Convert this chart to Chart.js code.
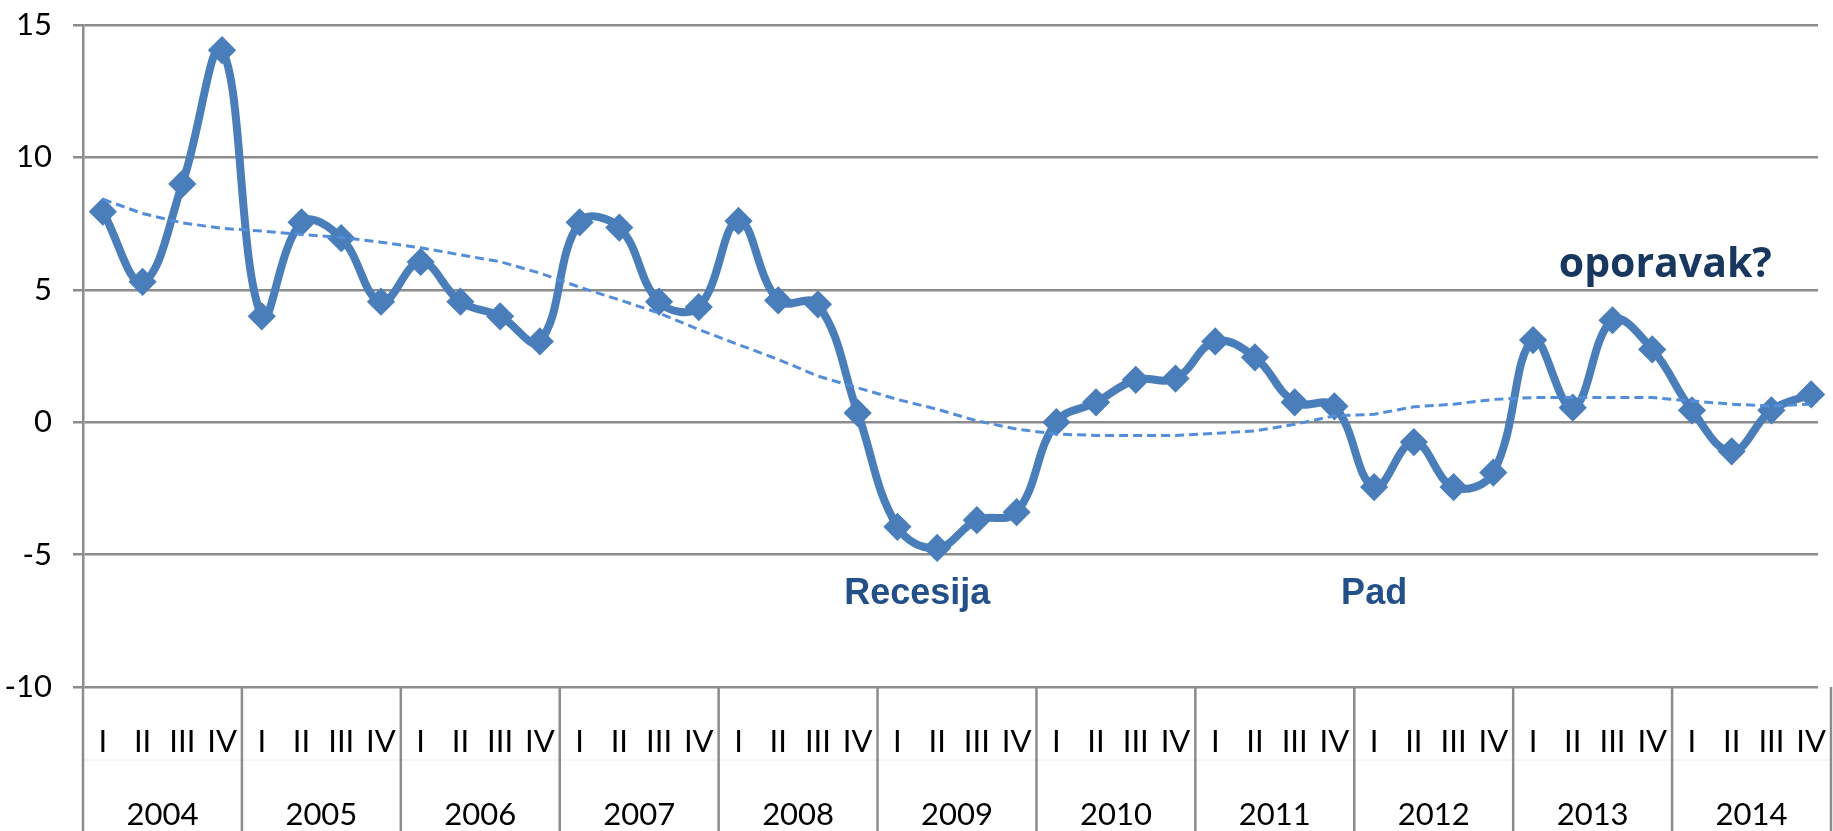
<!DOCTYPE html>
<html>
<head>
<meta charset="utf-8">
<script src="https://cdn.jsdelivr.net/npm/chart.js@4.4.1/dist/chart.umd.min.js"></script>
<style>
  html, body { margin: 0; padding: 0; background: #fff; }
  #wrap { width: 1833px; height: 831px; position: relative; }
</style>
</head>
<body>
<div id="wrap"><canvas id="gdpChart"></canvas></div>
<script>
// podaci
const years = ["2004", "2005", "2006", "2007", "2008", "2009", "2010", "2011", "2012", "2013", "2014"];
const quarters = ["I", "II", "III", "IV"];
const yTicks = [-10, -5, 0, 5, 10, 15];

const growth = [
  7.95, 5.3, 9.0, 14.05,
  4.0, 7.55, 6.95, 4.55,
  6.05, 4.55, 4.0, 3.05,
  7.55, 7.35, 4.55, 4.35,
  7.6, 4.6, 4.45, 0.35,
  -3.95, -4.75, -3.7, -3.4,
  0.0, 0.75, 1.6, 1.65,
  3.05, 2.45, 0.75, 0.6,
  -2.45, -0.75, -2.45, -1.9,
  3.1, 0.55, 3.85, 2.75,
  0.45, -1.1, 0.45, 1.05
];

const trend = [
  8.42, 7.88, 7.53, 7.32,
  7.22, 7.09, 6.98, 6.8,
  6.59, 6.32, 6.06, 5.63,
  5.1, 4.62, 4.12, 3.5,
  2.93, 2.37, 1.74, 1.3,
  0.86, 0.49, 0.05, -0.26,
  -0.45, -0.5, -0.5, -0.5,
  -0.42, -0.33, -0.08, 0.24,
  0.3, 0.58, 0.68, 0.86,
  0.93, 0.93, 0.93, 0.93,
  0.8, 0.68, 0.61, 0.68
];

const labels = [];
years.forEach(() => quarters.forEach(q => labels.push(q)));

const gridGray = "#8c8c8c";

// x skala neka ide do desnog ruba platna
const fitX = {
  id: "fitX",
  afterLayout(chart) {
    const xs = chart.scales.x;
    xs.right = chart.width - 2;
    xs.width = xs.right - xs.left;
    xs.configure();
  }
};

// godine ispod kvartala + okomite crte
const yearAxis = {
  id: "yearAxis",
  afterDraw(chart) {
    const ctx = chart.ctx;
    const xs = chart.scales.x;
    const step = xs.getPixelForValue(1) - xs.getPixelForValue(0);
    ctx.save();
    ctx.strokeStyle = "#ececec";
    ctx.lineWidth = 1;
    ctx.beginPath();
    ctx.moveTo(xs.left, 760);
    ctx.lineTo(xs.right, 760);
    ctx.stroke();
    ctx.strokeStyle = gridGray;
    ctx.lineWidth = 2.5;
    for (let k = 0; k <= years.length; k++) {
      const x = xs.getPixelForValue(k * 4) - step / 2;
      ctx.beginPath();
      ctx.moveTo(x, xs.top);
      ctx.lineTo(x, xs.bottom);
      ctx.stroke();
    }
    ctx.fillStyle = "#000";
    ctx.font = "31px Lato";
    ctx.textAlign = "center";
    ctx.textBaseline = "middle";
    years.forEach((y, k) => {
      const x = (xs.getPixelForValue(k * 4 + 1) + xs.getPixelForValue(k * 4 + 2)) / 2;
      ctx.fillText(y, x, xs.bottom - 16);
    });
    ctx.restore();
  }
};

// natpisi u grafu
const notes = {
  id: "notes",
  afterDraw(chart) {
    const ctx = chart.ctx;
    const xs = chart.scales.x;
    const ys = chart.scales.y;
    const items = [
      { text: "Recesija", i: 20.5, v: -6.86, font: "bold 36px 'Liberation Sans'", color: "#24508a" },
      { text: "Pad", i: 32.0, v: -6.86, font: "bold 36px 'Liberation Sans'", color: "#24508a" },
      { text: "oporavak?", i: 39.33, v: 5.47, font: "bold 41px 'Open Sans'", color: "#17375e" }
    ];
    ctx.save();
    ctx.textAlign = "center";
    ctx.textBaseline = "alphabetic";
    items.forEach(n => {
      ctx.font = n.font;
      ctx.fillStyle = n.color;
      ctx.fillText(n.text, xs.getPixelForValue(n.i), ys.getPixelForValue(n.v));
    });
    ctx.restore();
  }
};

document.addEventListener("DOMContentLoaded", function () {
  const data = {
    labels: labels,
    datasets: [
      {
        label: "Trend",
        data: trend,
        borderColor: "#548dd8",
        borderWidth: 3,
        borderDash: [9, 5],
        pointRadius: 0,
        tension: 0,
        fill: false
      },
      {
        label: "BDP",
        data: growth,
        borderColor: "#4a7ebb",
        backgroundColor: "#4a7ebb",
        borderWidth: 8,
        pointStyle: "rectRot",
        pointRadius: 12,
        pointBorderWidth: 3,
        pointBackgroundColor: "#4a7ebb",
        pointBorderColor: "#4a7ebb",
        tension: 0.4,
        fill: false
      }
    ]
  };

  const config = {
    type: "line",
    data: data,
    options: {
      responsive: true,
      maintainAspectRatio: false,
      animation: false,
      layout: { padding: { top: 25, right: 2, left: 0, bottom: 0 } },
      scales: {
        x: {
          offset: true,
          grid: { display: false, drawTicks: false },
          border: { display: false },
          ticks: {
            color: "#000",
            font: { family: "Lato", size: 31 },
            padding: 36,
            autoSkip: false,
            maxRotation: 0
          },
          afterFit(scale) {
            scale.height = 144;
            scale.paddingLeft = 0;
            scale.paddingRight = 0;
          }
        },
        y: {
          min: -10,
          max: 15,
          afterBuildTicks(scale) { scale.ticks = yTicks.map(v => ({ value: v })); },
          grid: { color: gridGray, lineWidth: 2.5, tickLength: 10 },
          border: { color: gridGray, width: 2.5 },
          ticks: {
            color: "#000",
            font: { family: "Lato", size: 31 },
            padding: 21
          },
          afterFit(scale) {
            scale.width = 83;
            scale.paddingTop = 0;
            scale.paddingBottom = 0;
          }
        }
      },
      plugins: {
        legend: { display: false },
        title: { display: false },
        tooltip: { enabled: false }
      }
    },
    plugins: [fitX, yearAxis, notes]
  };

  const ctx = document.getElementById("gdpChart").getContext("2d");
  new Chart(ctx, config);
});
</script>
</body>
</html>
